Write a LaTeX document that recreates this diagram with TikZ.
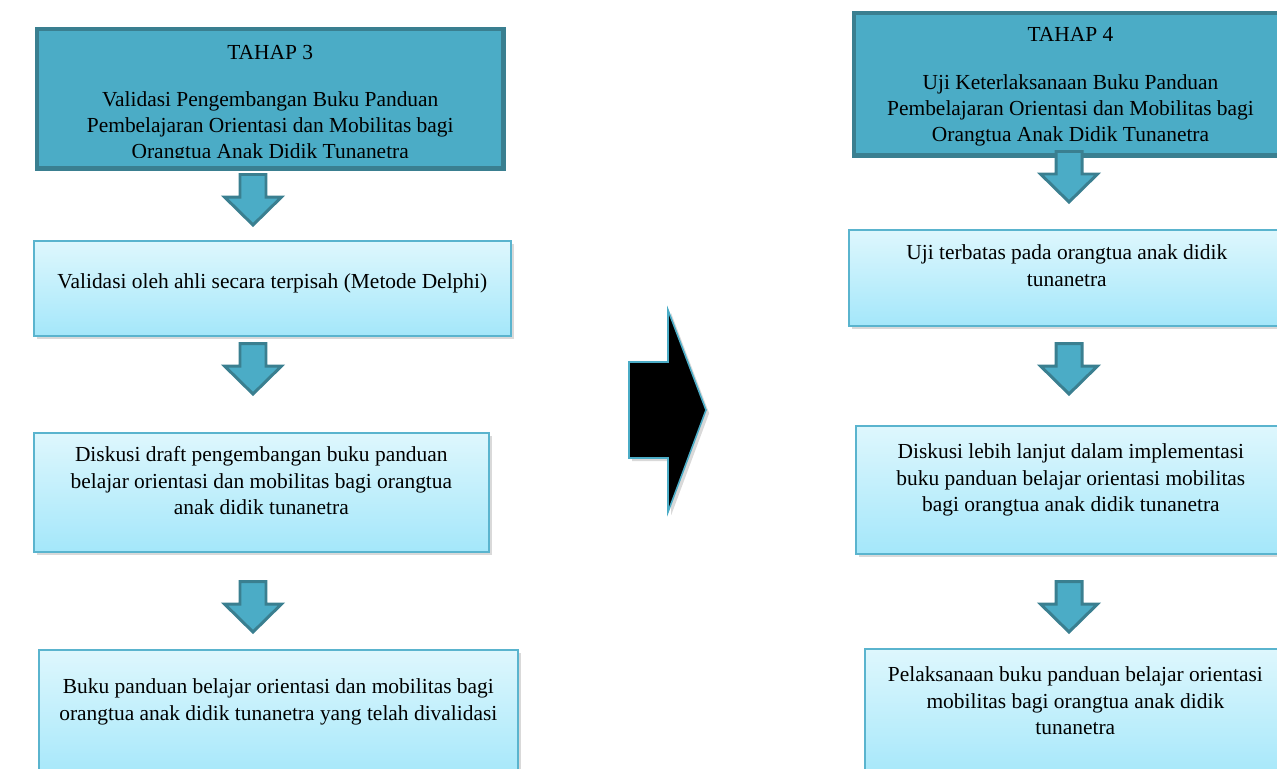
\documentclass[tikz,border=0pt]{standalone}
\usepackage{fontspec}
\setmainfont{Liberation Serif}
\usetikzlibrary{shadows}
\definecolor{tahapfill}{HTML}{4BACC6}
\definecolor{tahapline}{HTML}{3A7F90}
\definecolor{boxtop}{HTML}{DEF7FD}
\definecolor{boxbot}{HTML}{A4E7FA}
\definecolor{boxline}{HTML}{5AB4CE}
\begin{document}
\begin{tikzpicture}[x=0.02cm,y=-0.02cm,
	tahap/.style={rectangle, fill=tahapfill, draw=tahapline, line width=2.6pt, align=flush center, inner sep=0pt, anchor=north west},
	box/.style={rectangle, top color=boxtop, bottom color=boxbot, draw=boxline, line width=1pt, align=flush center, inner sep=0pt, anchor=north west, drop shadow={shadow xshift=1.8pt, shadow yshift=-1.8pt, opacity=0.3}},
	arrowline/.style={fill=tahapfill, draw=tahapline, line width=1.7pt},
	bigarrow/.style={fill=black, draw=tahapfill, line width=0.9pt, drop shadow={shadow xshift=1.8pt, shadow yshift=-1.8pt, opacity=0.3}},
	dnarrow/.pic={\draw[arrowline] (-13,1.5) -- (13,1.5) -- (13,24) -- (28.5,24) -- (0,52) -- (-28.5,24) -- (-13,24) -- cycle;},
	font=\fontsize{12.2}{14.9}\selectfont]
	
	\useasboundingbox (0,0) rectangle (1277,768);
	
	%Nodes
	\node[tahap, text width=9.34cm, text height=0.61cm, text depth=2.19cm]	(tahap3)	at (34.5,26.5) {TAHAP 3\\[0.42cm]Validasi Pengembangan Buku Panduan\\Pembelajaran Orientasi dan Mobilitas bagi\\Orangtua Anak Didik Tunanetra};
	\fill[tahapfill] (39,158) rectangle (497,164);
	\node[box, text width=9.54cm, text height=0.96cm, text depth=0.94cm]	(valid)	at (33,240) {Validasi oleh ahli secara terpisah (Metode Delphi)};
	\node[box, text width=9.1cm, text height=0.58cm, text depth=1.8cm]	(diskusi)	at (33,432) {Diskusi draft pengembangan buku panduan\\belajar orientasi dan mobilitas bagi orangtua\\anak didik tunanetra};
	\node[box, text width=9.58cm, text height=0.88cm, text depth=1.74cm]	(buku)	at (38,649) {Buku panduan belajar orientasi dan mobilitas bagi\\orangtua anak didik tunanetra yang telah divalidasi};
	
	\node[tahap, text width=8.67cm, text height=0.57cm, text depth=2.29cm]	(tahap4)	at (851.5,10.5) {TAHAP 4\\[0.44cm]Uji Keterlaksanaan Buku Panduan\\Pembelajaran Orientasi dan Mobilitas bagi\\Orangtua Anak Didik Tunanetra};
	\node[box, text width=8.72cm, text height=0.6cm, text depth=1.32cm]	(uji)	at (848,229) {Uji terbatas pada orangtua anak didik\\tunanetra};
	\node[box, text width=8.6cm, text height=0.66cm, text depth=1.9cm]	(lanjut)	at (855,425) {Diskusi lebih lanjut dalam implementasi\\buku panduan belajar orientasi mobilitas\\bagi orangtua anak didik tunanetra};
	\node[box, text width=8.42cm, text height=0.66cm, text depth=1.98cm]	(laksana)	at (864,648) {Pelaksanaan buku panduan belajar orientasi\\mobilitas bagi orangtua anak didik\\tunanetra};
	
	%Arrows
	\pic (a1) at (253,173) {dnarrow};
	\pic (a2) at (253,342) {dnarrow};
	\pic (a3) at (253,580) {dnarrow};
	\pic (b1) at (1069,150) {dnarrow};
	\pic (b2) at (1069,342) {dnarrow};
	\pic (b3) at (1069,580) {dnarrow};
	
	\draw[bigarrow] (629,362) -- (668,362) -- (668,310) -- (706,410) -- (668,512) -- (668,458) -- (629,458) -- cycle;
\end{tikzpicture}
\end{document}
